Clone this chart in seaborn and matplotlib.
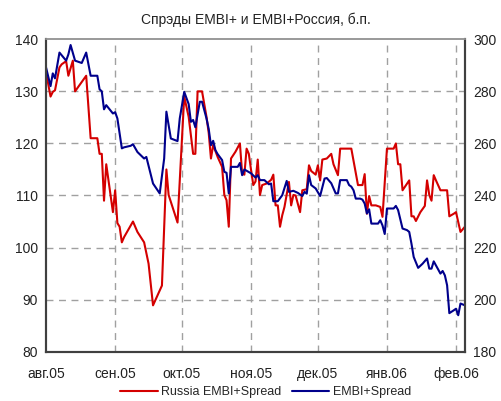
import pandas as pd
import matplotlib
matplotlib.use("Agg")
import matplotlib.pyplot as plt
import seaborn as sns

# Russia EMBI+ spread (left axis)
red_dates = ["2005-08-01", "2005-08-03", "2005-08-04", "2005-08-05", "2005-08-07", "2005-08-08",
             "2005-08-10", "2005-08-11", "2005-08-13", "2005-08-14", "2005-08-19", "2005-08-21",
             "2005-08-24", "2005-08-25", "2005-08-26", "2005-08-27", "2005-08-28", "2005-08-31",
             "2005-09-01", "2005-09-02", "2005-09-03", "2005-09-04", "2005-09-05", "2005-09-09",
             "2005-09-11", "2005-09-14", "2005-09-16", "2005-09-18", "2005-09-22", "2005-09-24",
             "2005-09-25", "2005-09-29", "2005-10-02", "2005-10-04", "2005-10-06", "2005-10-07",
             "2005-10-08", "2005-10-10", "2005-10-12", "2005-10-13", "2005-10-14", "2005-10-15",
             "2005-10-17", "2005-10-19", "2005-10-20", "2005-10-21", "2005-10-22", "2005-10-23",
             "2005-10-25", "2005-10-27", "2005-10-28", "2005-10-29", "2005-10-30", "2005-10-31",
             "2005-11-01", "2005-11-02", "2005-11-03", "2005-11-04", "2005-11-05", "2005-11-06",
             "2005-11-08", "2005-11-10", "2005-11-11", "2005-11-12", "2005-11-13", "2005-11-14",
             "2005-11-15", "2005-11-16", "2005-11-18", "2005-11-19", "2005-11-20", "2005-11-21",
             "2005-11-23", "2005-11-24", "2005-11-26", "2005-11-27", "2005-11-28", "2005-11-30",
             "2005-12-01", "2005-12-02", "2005-12-03", "2005-12-05", "2005-12-07", "2005-12-08",
             "2005-12-10", "2005-12-11", "2005-12-16", "2005-12-19", "2005-12-21", "2005-12-22",
             "2005-12-23", "2005-12-24", "2005-12-25", "2005-12-27", "2005-12-29", "2005-12-30",
             "2006-01-01", "2006-01-04", "2006-01-05", "2006-01-06", "2006-01-07", "2006-01-08",
             "2006-01-11", "2006-01-12", "2006-01-13", "2006-01-14", "2006-01-16", "2006-01-18",
             "2006-01-19", "2006-01-20", "2006-01-21", "2006-01-22", "2006-01-23", "2006-01-25",
             "2006-01-28", "2006-01-29", "2006-01-31", "2006-02-01", "2006-02-03", "2006-02-05"]
red_values = [133.6, 129.0, 129.9, 130.2, 134.6, 135.2,
              135.8, 133.0, 135.9, 130.0, 133.0, 121.0,
              121.0, 118.0, 118.0, 109.0, 116.0, 106.8,
              111.0, 104.7, 104.0, 101.0, 102.0, 105.0,
              103.0, 101.0, 96.9, 88.9, 92.7, 115.0,
              110.1, 104.8, 129.0, 125.1, 118.0, 118.0,
              130.0, 130.0, 125.1, 122.0, 117.1, 119.7,
              117.4, 115.5, 110.1, 109.1, 104.0, 117.1,
              118.4, 120.0, 114.2, 114.0, 119.0, 118.0,
              114.9, 112.0, 112.7, 116.9, 110.1, 112.0,
              112.3, 113.0, 114.0, 108.1, 108.1, 104.0,
              106.2, 107.8, 112.6, 108.1, 110.1, 110.0,
              106.8, 111.0, 111.2, 115.8, 114.7, 114.0,
              115.8, 112.9, 116.9, 117.1, 118.0, 116.0,
              113.9, 119.0, 119.0, 112.0, 112.0, 114.1,
              106.5, 109.9, 108.1, 108.1, 107.8, 105.9,
              119.0, 119.0, 120.0, 116.0, 116.0, 111.0,
              112.9, 106.0, 106.0, 105.1, 106.8, 108.0,
              112.9, 110.1, 109.0, 113.9, 112.9, 111.0,
              111.0, 106.0, 106.5, 106.8, 103.0, 104.0]

# EMBI+ spread (right axis)
blue_dates = ["2005-08-01", "2005-08-03", "2005-08-04", "2005-08-05", "2005-08-07", "2005-08-10",
              "2005-08-11", "2005-08-12", "2005-08-14", "2005-08-17", "2005-08-19", "2005-08-21",
              "2005-08-24", "2005-08-25", "2005-08-26", "2005-08-27", "2005-08-28", "2005-08-31",
              "2005-09-01", "2005-09-02", "2005-09-04", "2005-09-05", "2005-09-08", "2005-09-09",
              "2005-09-11", "2005-09-14", "2005-09-15", "2005-09-18", "2005-09-21", "2005-09-23",
              "2005-09-24", "2005-09-26", "2005-09-29", "2005-09-30", "2005-10-02", "2005-10-04",
              "2005-10-05", "2005-10-06", "2005-10-07", "2005-10-09", "2005-10-10", "2005-10-12",
              "2005-10-13", "2005-10-14", "2005-10-15", "2005-10-16", "2005-10-17", "2005-10-19",
              "2005-10-20", "2005-10-21", "2005-10-22", "2005-10-23", "2005-10-26", "2005-10-27",
              "2005-10-28", "2005-10-29", "2005-11-01", "2005-11-03", "2005-11-04", "2005-11-05",
              "2005-11-07", "2005-11-09", "2005-11-10", "2005-11-11", "2005-11-13", "2005-11-15",
              "2005-11-17", "2005-11-18", "2005-11-20", "2005-11-22", "2005-11-24", "2005-11-25",
              "2005-11-26", "2005-11-27", "2005-11-28", "2005-11-30", "2005-12-02", "2005-12-04",
              "2005-12-05", "2005-12-07", "2005-12-09", "2005-12-10", "2005-12-11", "2005-12-14",
              "2005-12-15", "2005-12-16", "2005-12-17", "2005-12-18", "2005-12-20", "2005-12-21",
              "2005-12-22", "2005-12-23", "2005-12-24", "2005-12-25", "2005-12-28", "2005-12-29",
              "2005-12-30", "2005-12-31", "2006-01-01", "2006-01-04", "2006-01-05", "2006-01-06",
              "2006-01-08", "2006-01-10", "2006-01-11", "2006-01-12", "2006-01-13", "2006-01-15",
              "2006-01-17", "2006-01-19", "2006-01-20", "2006-01-21", "2006-01-22", "2006-01-25",
              "2006-01-26", "2006-01-27", "2006-01-28", "2006-01-29", "2006-01-31", "2006-02-01",
              "2006-02-02", "2006-02-03", "2006-02-05"]
blue_values = [289.1, 282.0, 286.9, 285.0, 294.9, 291.8,
               294.2, 297.8, 291.8, 290.9, 294.9, 286.0,
               286.0, 280.8, 280.0, 273.1, 274.7, 271.5,
               272.0, 269.6, 258.1, 258.5, 259.1, 259.7,
               256.7, 254.2, 254.8, 244.6, 240.8, 254.2,
               272.2, 261.9, 260.9, 269.6, 279.8, 275.1,
               268.3, 269.0, 266.2, 276.0, 276.0, 269.6,
               265.5, 259.3, 261.0, 257.4, 255.9, 253.6,
               249.1, 248.7, 240.8, 251.0, 251.0, 252.5,
               247.8, 250.0, 248.5, 246.9, 247.8, 245.9,
               245.9, 244.3, 244.6, 237.8, 237.8, 240.1,
               245.6, 241.4, 241.8, 241.0, 239.8, 241.4,
               240.7, 247.8, 244.0, 242.7, 239.8, 246.5,
               246.7, 244.7, 240.8, 240.8, 245.9, 245.9,
               244.0, 243.4, 242.0, 238.8, 238.8, 238.4,
               236.9, 233.1, 234.7, 229.2, 229.2, 230.5,
               228.5, 225.2, 235.0, 235.0, 236.0, 234.4,
               227.3, 226.7, 226.0, 221.5, 216.4, 212.2,
               213.8, 215.8, 211.9, 211.9, 214.7, 210.0,
               211.0, 209.3, 205.5, 194.8, 195.9, 196.5,
               194.0, 198.5, 197.8]

month_starts = ["2005-08-01", "2005-09-01", "2005-10-01", "2005-11-01",
                "2005-12-01", "2006-01-01", "2006-02-01"]
month_labels = ["авг.05", "сен.05", "окт.05", "ноя.05", "дек.05", "янв.06", "фев.06"]

red_df = pd.DataFrame({"date": pd.to_datetime(red_dates), "spread": red_values})
blue_df = pd.DataFrame({"date": pd.to_datetime(blue_dates), "spread": blue_values})

sns.set_style("white")
plt.rcParams["font.family"] = ["Liberation Sans", "DejaVu Sans"]

fig = plt.figure(figsize=(5.01, 4.01), dpi=100)
ax = fig.add_axes([0.092, 0.123, 0.836, 0.779])
ax2 = ax.twinx()

red_c = "#d40000"
blue_c = "#00008c"
grid_c = "#a0a0a0"
dash = (0, (5, 4))

sns.lineplot(data=red_df, x="date", y="spread", ax=ax, color=red_c, linewidth=1.5,
             label="Russia EMBI+Spread", legend=False)
sns.lineplot(data=blue_df, x="date", y="spread", ax=ax2, color=blue_c, linewidth=1.5,
             label="EMBI+Spread", legend=False)

ax.set_xlim(pd.Timestamp("2005-08-01"), pd.Timestamp("2006-02-05"))
ax.set_ylim(80, 140)
ax2.set_ylim(180, 300)
ax.set_yticks(range(80, 141, 10))
ax2.set_yticks(range(180, 301, 20))
ax.set_xticks(pd.to_datetime(month_starts))
ax.set_xticklabels(month_labels)

for y in range(90, 140, 10):
    ax.axhline(y, color=grid_c, linestyle=dash, linewidth=1, zorder=0)
for d in month_starts[1:]:
    ax.axvline(pd.Timestamp(d), color=grid_c, linestyle=dash, linewidth=1, zorder=0)

ax.set_xlabel("")
ax.set_ylabel("")
ax2.set_ylabel("")
ax.tick_params(axis="both", labelsize=10, colors="#222222", length=0, pad=6)
ax2.tick_params(axis="y", labelsize=10, colors="#222222", length=0, pad=6)
ax.tick_params(axis="x", pad=11)

for a in (ax, ax2):
    for side in ("left", "bottom", "right"):
        a.spines[side].set_color("#404040")
        a.spines[side].set_linewidth(1.5)
    a.spines["top"].set_color("#999999")
    a.spines["top"].set_linewidth(1.2)

ax.set_title("Спрэды EMBI+ и EMBI+Россия, б.п.", fontsize=10, color="#222222", pad=11)

handles = ax.get_lines()[:1] + ax2.get_lines()[:1]
fig.legend(handles, ["Russia EMBI+Spread", "EMBI+Spread"], loc="lower center",
           bbox_to_anchor=(0.53, 0.0), ncol=2, frameon=False, fontsize=9,
           handlelength=3.0, handletextpad=0.3, columnspacing=0.8,
           borderaxespad=0.1, borderpad=0.1)

fig.savefig("out.png", dpi=100)
